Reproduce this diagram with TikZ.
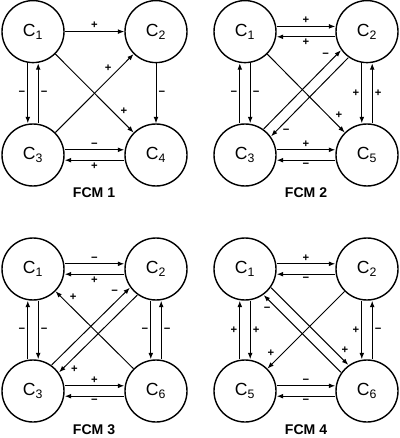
\documentclass[tikz,border=0pt]{standalone}
\usepackage{fontspec}
\setmainfont{Liberation Sans}
\usetikzlibrary{arrows.meta, calc}

\begin{document}
\begin{tikzpicture}[>={Latex[length=1.6mm, width=1.2mm]}, line width=0.7pt,
  concept/.style={draw, circle, line width=1pt, minimum size=1.55cm, inner sep=0pt, font=\fontsize{12.5}{14}\selectfont},
  sign/.style={font=\footnotesize\bfseries, inner sep=1.5pt},
  title/.style={font=\fontsize{10}{12}\selectfont\bfseries}]
  \useasboundingbox (0,0) rectangle (10,-10.95);
  \node[concept] (f1c1) at (0.825,-0.79) {C\textsubscript{1}};
  \node[concept] (f1c2) at (3.9,-0.79) {C\textsubscript{2}};
  \node[concept] (f1c3) at (0.825,-3.875) {C\textsubscript{3}};
  \node[concept] (f1c4) at (3.9,-3.875) {C\textsubscript{4}};
  \node[title] (f1name) at (2.35,-4.825) {FCM 1};
  \draw[->] (f1c1) -- (f1c2) node[midway, above, sign] {+};
  \draw[->] ($(f1c1.south)+(-0.13,0)$) -- ($(f1c3.north)+(-0.13,0)$) node[midway, left, sign] {−};
  \draw[->] ($(f1c3.north)+(0.13,0)$) -- ($(f1c1.south)+(0.13,0)$) node[midway, right, sign] {−};
  \draw[->] (f1c2) -- (f1c4) node[midway, right, sign] {−};
  \draw[->] (f1c1) -- (f1c4) node[pos=0.8, above right, sign] {+};
  \draw[->] (f1c3) -- (f1c2) node[pos=0.75, above left, sign] {+};
  \draw[->] ($(f1c3.east)+(0,0.13)$) -- ($(f1c4.west)+(0,0.13)$) node[midway, above, sign] {−};
  \draw[->] ($(f1c4.west)+(0,-0.13)$) -- ($(f1c3.east)+(0,-0.13)$) node[midway, below, sign] {+};

  \node[concept] (f2c1) at (6.125,-0.79) {C\textsubscript{1}};
  \node[concept] (f2c2) at (9.175,-0.79) {C\textsubscript{2}};
  \node[concept] (f2c3) at (6.125,-3.875) {C\textsubscript{3}};
  \node[concept] (f2c5) at (9.175,-3.875) {C\textsubscript{5}};
  \node[title] (f2name) at (7.65,-4.825) {FCM 2};
  \draw[->] ($(f2c1.east)+(0,0.13)$) -- ($(f2c2.west)+(0,0.13)$) node[midway, above, sign] {+};
  \draw[->] ($(f2c2.west)+(0,-0.13)$) -- ($(f2c1.east)+(0,-0.13)$) node[midway, below, sign] {+};
  \draw[->] ($(f2c3.north)+(-0.13,0)$) -- ($(f2c1.south)+(-0.13,0)$) node[midway, left, sign] {−};
  \draw[->] ($(f2c1.south)+(0.13,0)$) -- ($(f2c3.north)+(0.13,0)$) node[midway, right, sign] {−};
  \draw[->] ($(f2c2.south)+(-0.13,0)$) -- ($(f2c5.north)+(-0.13,0)$) node[midway, left, sign] {+};
  \draw[->] ($(f2c5.north)+(0.13,0)$) -- ($(f2c2.south)+(0.13,0)$) node[midway, right, sign] {+};
  \draw[->] (f2c1) -- (f2c5) node[pos=0.85, above right, sign] {+};
  \draw[->] ($(f2c3.north east)+(-0.092,0.092)$) -- ($(f2c2.south west)+(-0.092,0.092)$) node[pos=0.88, above left, sign] {−};
  \draw[->] ($(f2c2.south west)+(0.092,-0.092)$) -- ($(f2c3.north east)+(0.092,-0.092)$) node[pos=0.88, below right, sign] {−};
  \draw[->] ($(f2c3.east)+(0,0.13)$) -- ($(f2c5.west)+(0,0.13)$) node[midway, above, sign] {+};
  \draw[->] ($(f2c5.west)+(0,-0.13)$) -- ($(f2c3.east)+(0,-0.13)$) node[midway, below, sign] {−};

  \node[concept] (f3c1) at (0.825,-6.725) {C\textsubscript{1}};
  \node[concept] (f3c2) at (3.9,-6.725) {C\textsubscript{2}};
  \node[concept] (f3c3) at (0.825,-9.775) {C\textsubscript{3}};
  \node[concept] (f3c6) at (3.9,-9.775) {C\textsubscript{6}};
  \node[title] (f3name) at (2.35,-10.75) {FCM 3};
  \draw[->] ($(f3c1.east)+(0,0.13)$) -- ($(f3c2.west)+(0,0.13)$) node[midway, above, sign] {−};
  \draw[->] ($(f3c2.west)+(0,-0.13)$) -- ($(f3c1.east)+(0,-0.13)$) node[midway, below, sign] {+};
  \draw[->] ($(f3c3.north)+(-0.13,0)$) -- ($(f3c1.south)+(-0.13,0)$) node[midway, left, sign] {−};
  \draw[->] ($(f3c1.south)+(0.13,0)$) -- ($(f3c3.north)+(0.13,0)$) node[midway, right, sign] {−};
  \draw[->] ($(f3c2.south)+(-0.13,0)$) -- ($(f3c6.north)+(-0.13,0)$) node[midway, left, sign] {−};
  \draw[->] ($(f3c6.north)+(0.13,0)$) -- ($(f3c2.south)+(0.13,0)$) node[midway, right, sign] {−};
  \draw[->] (f3c6) -- (f3c1) node[pos=0.85, above right, sign] {+};
  \draw[->] ($(f3c3.north east)+(-0.092,0.092)$) -- ($(f3c2.south west)+(-0.092,0.092)$) node[pos=0.88, above left, sign] {−};
  \draw[->] ($(f3c2.south west)+(0.092,-0.092)$) -- ($(f3c3.north east)+(0.092,-0.092)$) node[pos=0.88, below right, sign] {+};
  \draw[->] ($(f3c3.east)+(0,0.13)$) -- ($(f3c6.west)+(0,0.13)$) node[midway, above, sign] {+};
  \draw[->] ($(f3c6.west)+(0,-0.13)$) -- ($(f3c3.east)+(0,-0.13)$) node[midway, below, sign] {−};

  \node[concept] (f4c1) at (6.125,-6.725) {C\textsubscript{1}};
  \node[concept] (f4c2) at (9.175,-6.725) {C\textsubscript{2}};
  \node[concept] (f4c5) at (6.125,-9.775) {C\textsubscript{5}};
  \node[concept] (f4c6) at (9.175,-9.775) {C\textsubscript{6}};
  \node[title] (f4name) at (7.65,-10.75) {FCM 4};
  \draw[->] ($(f4c1.east)+(0,0.13)$) -- ($(f4c2.west)+(0,0.13)$) node[midway, above, sign] {+};
  \draw[->] ($(f4c2.west)+(0,-0.13)$) -- ($(f4c1.east)+(0,-0.13)$) node[midway, below, sign] {−};
  \draw[->] ($(f4c5.north)+(-0.13,0)$) -- ($(f4c1.south)+(-0.13,0)$) node[midway, left, sign] {+};
  \draw[->] ($(f4c1.south)+(0.13,0)$) -- ($(f4c5.north)+(0.13,0)$) node[midway, right, sign] {+};
  \draw[->] ($(f4c2.south)+(-0.13,0)$) -- ($(f4c6.north)+(-0.13,0)$) node[midway, left, sign] {+};
  \draw[->] ($(f4c6.north)+(0.13,0)$) -- ($(f4c2.south)+(0.13,0)$) node[midway, right, sign] {−};
  \draw[->] (f4c2) -- (f4c5) node[pos=0.88, above left, sign] {+};
  \draw[->] ($(f4c1.south east)+(0.092,0.092)$) -- ($(f4c6.north west)+(0.092,0.092)$) node[pos=0.88, above right, sign] {+};
  \draw[->] ($(f4c6.north west)+(-0.092,-0.092)$) -- ($(f4c1.south east)+(-0.092,-0.092)$) node[pos=0.88, below left, sign] {−};
  \draw[->] ($(f4c5.east)+(0,0.13)$) -- ($(f4c6.west)+(0,0.13)$) node[midway, above, sign] {−};
  \draw[->] ($(f4c6.west)+(0,-0.13)$) -- ($(f4c5.east)+(0,-0.13)$) node[midway, below, sign] {−};
\end{tikzpicture}
\end{document}
